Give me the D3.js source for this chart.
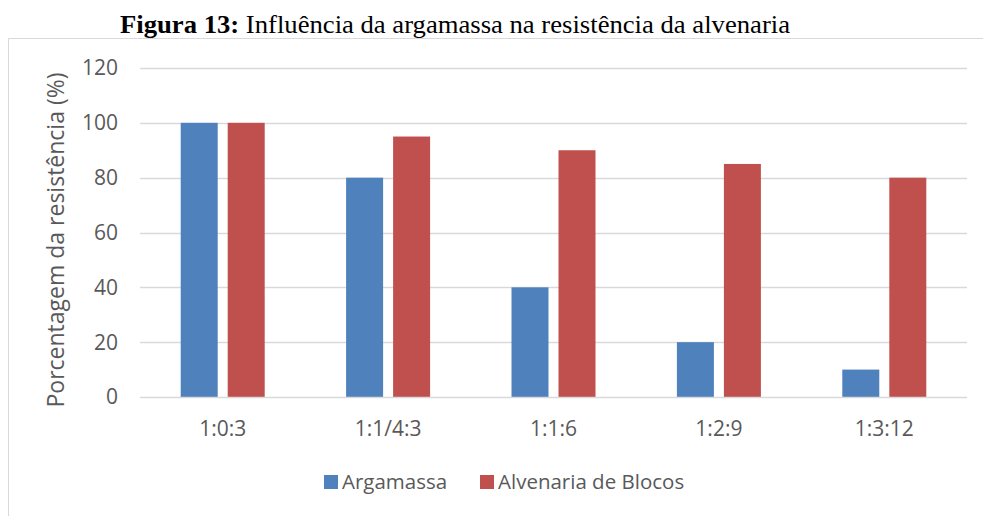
<!DOCTYPE html>
<html>
<head>
<meta charset="utf-8">
<script src="https://cdn.jsdelivr.net/npm/d3@7"></script>
<style>
  body { margin: 0; background: #fff; }
  svg { display: block; }
</style>
</head>
<body>
<svg width="983" height="516"></svg>
<script>
const categories = ["1:0:3", "1:1/4:3", "1:1:6", "1:2:9", "1:3:12"];
const series = ["Argamassa", "Alvenaria de Blocos"];
const argamassa = [100, 80, 40, 20, 10];
const alvenaria = [100, 95, 90, 85, 80];
const yTicks = [0, 20, 40, 60, 80, 100, 120];
const colors = ["#4F81BD", "#C0504D"];

const width = 983;
const height = 516;
const plot = {left: 140, right: 967, top: 68, bottom: 397};
const textColor = "#595959";
const font = "'Open Sans', 'Noto Sans', sans-serif";

const svg = d3.select("svg");

// title
const title = svg.append("text")
    .attr("x", 120)
    .attr("y", 33)
    .attr("font-family", "Liberation Serif")
    .attr("font-size", 25)
    .attr("fill", "#000")
    .attr("textLength", 670)
    .attr("lengthAdjust", "spacingAndGlyphs");
title.append("tspan").attr("font-weight", "bold").text("Figura 13:");
title.append("tspan").text(" Influência da argamassa na resistência da alvenaria");

// chart frame (only top and left edges visible)
svg.append("path")
    .attr("d", "M8.5," + height + "V38.5H" + width)
    .attr("fill", "none")
    .attr("stroke", "#D9D9D9")
    .attr("stroke-width", 1);

const y = d3.scaleLinear().domain([0, 120]).range([plot.bottom, plot.top]);
const x = d3.scaleBand().domain(categories).range([plot.left, plot.right]);

const groupWidth = 84;
const xSub = d3.scaleBand().domain(series).range([0, groupWidth]).paddingInner(10 / 47);

// gridlines
svg.append("g")
    .selectAll("line")
    .data(yTicks.filter(d => d > 0))
    .join("line")
    .attr("x1", plot.left)
    .attr("x2", plot.right)
    .attr("y1", d => Math.round(y(d)) + 0.5)
    .attr("y2", d => Math.round(y(d)) + 0.5)
    .attr("stroke", "#D9D9D9")
    .attr("stroke-width", 1.5);

// y tick labels
svg.append("g")
    .selectAll("text")
    .data(yTicks)
    .join("text")
    .attr("x", 118)
    .attr("y", d => y(d))
    .attr("dy", "0.35em")
    .attr("text-anchor", "end")
    .attr("font-family", font)
    .attr("font-size", 21)
    .attr("fill", textColor)
    .text(d => d);

// bars
const rows = categories.map((c, i) => ({cat: c, values: [argamassa[i], alvenaria[i]]}));
const groups = svg.append("g")
    .selectAll("g")
    .data(rows)
    .join("g")
    .attr("transform", d => "translate(" + (x(d.cat) + (x.bandwidth() - groupWidth) / 2) + ",0)");

groups.selectAll("rect")
    .data(d => d.values.map((v, j) => ({s: series[j], v: v, j: j})))
    .join("rect")
    .attr("x", d => xSub(d.s))
    .attr("width", xSub.bandwidth())
    .attr("y", d => y(d.v))
    .attr("height", d => y(0) - y(d.v))
    .attr("fill", d => colors[d.j]);

// x axis line
svg.append("line")
    .attr("x1", plot.left)
    .attr("x2", plot.right)
    .attr("y1", plot.bottom + 0.5)
    .attr("y2", plot.bottom + 0.5)
    .attr("stroke", "#D9D9D9")
    .attr("stroke-width", 1.5);

// x labels
svg.append("g")
    .selectAll("text")
    .data(categories)
    .join("text")
    .attr("x", d => x(d) + x.bandwidth() / 2)
    .attr("y", 436)
    .attr("text-anchor", "middle")
    .attr("font-family", font)
    .attr("font-size", 21)
    .attr("fill", textColor)
    .text(d => d);

// y axis title
svg.append("text")
    .attr("transform", "translate(64," + 240 + ") rotate(-90)")
    .attr("text-anchor", "middle")
    .attr("font-family", font)
    .attr("font-size", 23)
    .attr("fill", textColor)
    .text("Porcentagem da resistência (%)");

// legend
const legendX = [324, 480];
const legend = svg.append("g")
    .selectAll("g")
    .data(series)
    .join("g")
    .attr("transform", (d, i) => "translate(" + legendX[i] + ",475)");

legend.append("rect")
    .attr("width", 14)
    .attr("height", 14)
    .attr("fill", (d, i) => colors[i]);

legend.append("text")
    .attr("x", 18)
    .attr("y", 14)
    .attr("font-family", font)
    .attr("font-size", 20.5)
    .attr("fill", textColor)
    .text(d => d);
</script>
</body>
</html>
